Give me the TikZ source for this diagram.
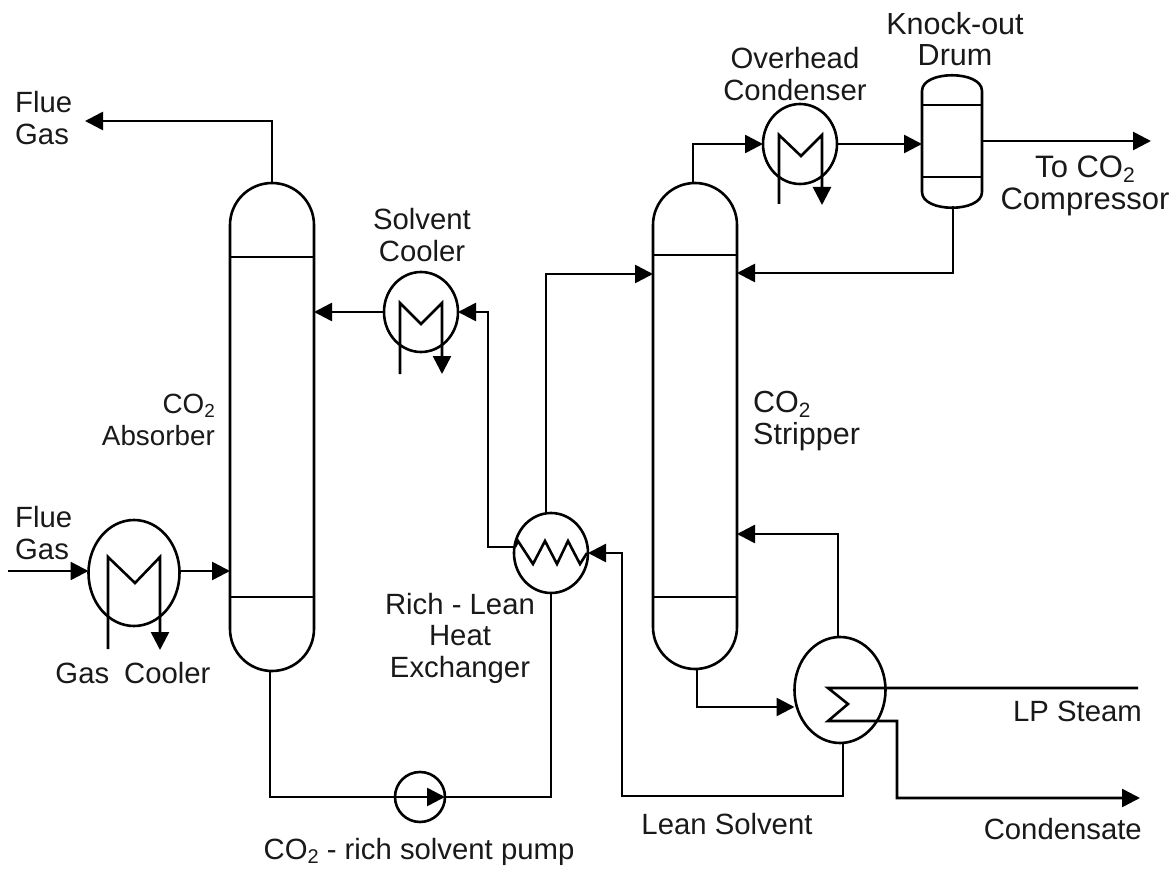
\documentclass[tikz,border=0pt]{standalone}
\usepackage{fontspec}
\setmainfont{Liberation Sans}
\usetikzlibrary{shapes.geometric,arrows.meta}
\newcommand{\subtwo}{\raisebox{-0.14em}{\scalebox{0.68}{2}}}
\tikzset{
  pipe/.style={line width=2.6pt,line join=miter},
  flow/.style={pipe,-{Triangle[length=18pt,width=18pt]}},
  hx/.style={ellipse,draw,line width=2.6pt,inner sep=0pt,outer sep=0pt},
  hxsmall/.style={hx,minimum width=74pt,minimum height=80pt},
  hxbig/.style={hx,minimum width=91pt,minimum height=106pt},
  column/.style={rectangle,draw,line width=2.6pt,rounded corners=42pt,minimum width=84pt,inner sep=0pt,outer sep=0pt},
  label/.style={font=\fontsize{29.3}{31.5}\selectfont,inner sep=0pt,align=center,text=black!90},
  tray/.style={line width=2.6pt}
}
\begin{document}
\begin{tikzpicture}[x=1pt,y=-1pt]
\useasboundingbox (0,0) rectangle (1171,869);
% columns
\node[column,minimum height=488pt] (absorber) at (272,427) {};
\node[column,minimum height=486pt] (stripper) at (695,426) {};
\coordinate (absT1) at (230,257); \coordinate (absT2) at (314,257);
\coordinate (absB1) at (230,597); \coordinate (absB2) at (314,597);
\coordinate (strT1) at (653,255); \coordinate (strT2) at (737,255);
\coordinate (strB1) at (653,597); \coordinate (strB2) at (737,597);
\draw[tray] (absT1) -- (absT2); \draw[tray] (absB1) -- (absB2);
\draw[tray] (strT1) -- (strT2); \draw[tray] (strB1) -- (strB2);
% knock-out drum
\node[rectangle,minimum width=60pt,minimum height=129pt,inner sep=0pt,outer sep=0pt] (drum) at (952,141.5) {};
\draw[pipe] (922,91) .. controls (922,70) and (982,70) .. (982,91) -- (982,192)
  .. controls (982,213) and (922,213) .. (922,192) -- cycle;
\coordinate (drT1) at (922,105); \coordinate (drT2) at (982,105);
\coordinate (drB1) at (922,177); \coordinate (drB2) at (982,177);
\draw[tray] (drT1) -- (drT2); \draw[tray] (drB1) -- (drB2);
% exchangers
\node[hxbig] (gascool) at (134,573) {};
\node[hxsmall] (solvcool) at (421,312) {};
\node[hxsmall] (rlhx) at (551,553) {};
\node[hxsmall] (ohcond) at (800,144) {};
\node[hxbig] (reboil) at (840,690) {};
\node[circle,draw,line width=2.6pt,minimum size=50pt,inner sep=0pt,outer sep=0pt] (pump) at (420,797) {};
% tube bundles
\coordinate (gcA) at (108,649); \coordinate (gcB) at (160,650);
\draw[flow] (gcA) -- (108,557) -- (135,583) -- (160,557) -- (gcB);
\coordinate (scA) at (400,374); \coordinate (scB) at (442,374);
\draw[flow] (scA) -- (400,303) -- (421,324) -- (442,303) -- (scB);
\coordinate (ocA) at (779,204); \coordinate (ocB) at (822,205);
\draw[flow] (ocA) -- (779,135) -- (801,156) -- (822,135) -- (ocB);
\draw[pipe] (515,547) -- (518,541) -- (533,564) -- (545,541) -- (557,564) -- (568,541) -- (580,564) -- (587,553);
% connectors
\coordinate (fgin) at (8,571);
\coordinate (fgout) at (85,121);
\draw[flow] (fgin) -- (gascool.west |- fgin);
\draw[flow] (gascool.east |- fgin) -- (absorber.west |- fgin);
\draw[flow] (absorber.north) |- (fgout);
\draw[flow] (solvcool.west) -- (absorber.east |- solvcool.west);
\coordinate (rlL) at (515,547);
\draw[flow] (rlL) -- (488,547) |- (solvcool.east);
\draw[flow] (546,513) -- (546,274) -- (stripper.west |- 546,274);
\coordinate (pumpin) at (270,797);
\draw[pipe] (270,671) -- (pumpin) -- (pump.west);
\draw[flow] (pump.west) -- (pump.east);
\draw[pipe] (pump.east) -- (551,797) -- (551,593);
\coordinate (lean) at (622,796);
\draw[flow] (843,743) -- (843,796) -- (lean) -- (622,553) -- (rlhx.east);
\draw[flow] (697,668) |- (reboil.west |- 0,707);
\draw[flow] (838,637) -- (838,534) -- (stripper.east |- 0,534);
\draw[flow] (693,183) |- (ohcond.west);
\draw[flow] (ohcond.east) -- (drum.west |- ohcond.east);
\coordinate (toco) at (1151,141);
\draw[flow] (drum.east |- toco) -- (toco);
\draw[flow] (953,206) |- (stripper.east |- 0,273);
\coordinate (lpsteam) at (1138,688);
\coordinate (cond) at (1140,798);
\draw[flow] (lpsteam) -- (828,688) -- (848,704) -- (828,721) -- (897,721) -- (897,798) -- (cond);
% labels
\node[label,align=left,anchor=west] (l1) at (15,118) {Flue\\Gas};
\node[label,align=left,anchor=west] (l2) at (15,533) {Flue\\Gas};
\node[label] (l3) at (133,673) {Gas\hspace{15pt}Cooler};
\node[label,align=right,anchor=east,font=\fontsize{27.8}{31.5}\selectfont] (l4) at (215,420) {CO\subtwo\\Absorber};
\node[label] (l5) at (422,235) {Solvent\\Cooler};
\node[label] (l6) at (460,638) {Rich - Lean\\Heat\\Exchanger};
\node[label,align=left,anchor=west,font=\fontsize{30.5}{31.5}\selectfont] (l7) at (753,421) {CO\subtwo\\Stripper};
\node[label] (l8) at (795,74) {Overhead\\Condenser};
\node[label,font=\fontsize{30.5}{31.5}\selectfont] (l9) at (955,39) {Knock-out\\Drum};
\node[label,font=\fontsize{31}{31.5}\selectfont] (l10) at (1085,186) {To CO\subtwo\hspace{20pt}\\Compressor};
\node[label,anchor=east] (l11) at (1142,711) {LP Steam};
\node[label,anchor=east] (l12) at (1142,829) {Condensate};
\node[label] (l13) at (727,824) {Lean Solvent};
\node[label] (l14) at (419,852) {CO\subtwo{} - rich solvent pump};
\end{tikzpicture}
\end{document}
